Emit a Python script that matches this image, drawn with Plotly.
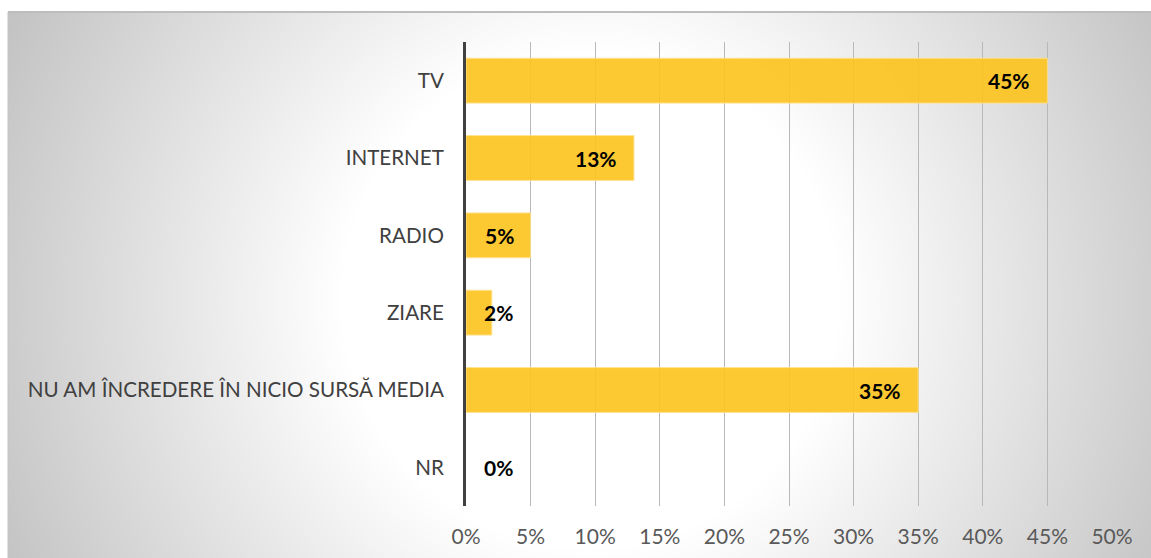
import base64
import struct
import zlib

import numpy as np
import plotly.graph_objects as go

categories = ["TV", "INTERNET", "RADIO", "ZIARE", "NU AM ÎNCREDERE ÎN NICIO SURSĂ MEDIA", "NR"]
values = [45, 13, 5, 2, 35, 0]
tick_vals = [0, 5, 10, 15, 20, 25, 30, 35, 40, 45, 50]
tick_text = [f"{v}%" for v in tick_vals]

W, H = 1151, 558
FONT = "Lato"


def radial_png(w, h, cx, cy, r0, r1, lo):
    yy, xx = np.mgrid[0:h, 0:w]
    r = np.sqrt((xx - cx) ** 2 + (yy - cy) ** 2)
    t = np.clip((r - r0) / (r1 - r0), 0, 1)
    v = (255 - (255 - lo) * t).astype(np.uint8)
    raw = b"".join(b"\x00" + v[i].tobytes() for i in range(h))

    def chunk(tag, data):
        c = struct.pack(">I", len(data)) + tag + data
        return c + struct.pack(">I", zlib.crc32(tag + data) & 0xFFFFFFFF)

    png = b"\x89PNG\r\n\x1a\n"
    png += chunk(b"IHDR", struct.pack(">IIBBBBB", w, h, 8, 0, 0, 0, 0))
    png += chunk(b"IDAT", zlib.compress(raw, 9))
    png += chunk(b"IEND", b"")
    return "data:image/png;base64," + base64.b64encode(png).decode()


bx0, by0 = 8, 12
bw, bh = W - bx0, H - by0
bg = radial_png(bw, bh, 590 - bx0, 300 - by0, 250, 680, 190)

fig = go.Figure()
fig.add_trace(
    go.Bar(
        y=categories,
        x=values,
        orientation="h",
        width=0.58,
        marker=dict(
            color="#FDC522",
            opacity=0.92,
            line=dict(color="#FFE08A", width=[1 if v > 0 else 0 for v in values]),
        ),
        hoverinfo="skip",
    )
)

annotations = []
for c, v in zip(categories, values):
    inside = v >= 5
    annotations.append(
        dict(
            x=v if inside else 0,
            y=c,
            xref="x",
            yref="y",
            text=f"<b>{v}%</b>",
            showarrow=False,
            xanchor="right" if inside else "left",
            xshift=-15 if inside else 16,
            font=dict(family=FONT, size=21, color="#000000"),
        )
    )

fig.update_layout(
    width=W,
    height=H,
    margin=dict(l=0, r=0, t=0, b=0, autoexpand=False),
    paper_bgcolor="white",
    plot_bgcolor="rgba(0,0,0,0)",
    showlegend=False,
    bargap=0.42,
    annotations=annotations,
    images=[
        dict(
            source=bg,
            xref="paper",
            yref="paper",
            x=bx0 / W,
            y=1 - by0 / H,
            sizex=bw / W,
            sizey=bh / H,
            xanchor="left",
            yanchor="top",
            sizing="stretch",
            layer="below",
        )
    ],
    shapes=[
        dict(type="line", xref="paper", yref="paper", x0=bx0 / W, x1=1, y0=1 - by0 / H, y1=1 - by0 / H,
             line=dict(color="#BDBDBD", width=2)),
        dict(type="line", xref="paper", yref="paper", x0=bx0 / W, x1=bx0 / W, y0=0, y1=1 - by0 / H,
             line=dict(color="#C4C4C4", width=1)),
    ],
    xaxis=dict(
        domain=[466 / W, 1112 / W],
        range=[0, 50],
        tickvals=tick_vals,
        ticktext=tick_text,
        showgrid=True,
        gridcolor="#B8B8B8",
        gridwidth=1.3,
        zeroline=False,
        showline=False,
        ticks="",
        automargin=False,
        ticklabelstandoff=16,
        tickfont=dict(family=FONT, size=21, color="#595959"),
        fixedrange=True,
    ),
    yaxis=dict(
        domain=[1 - 506 / H, 1 - 42 / H],
        categoryorder="array",
        categoryarray=categories[::-1],
        showgrid=False,
        zeroline=False,
        showline=True,
        linecolor="#404040",
        linewidth=3,
        ticks="",
        automargin=False,
        ticklabelstandoff=15,
        tickfont=dict(family=FONT, size=20.6, color="#404040"),
        fixedrange=True,
    ),
)

fig.write_html("out.html")
